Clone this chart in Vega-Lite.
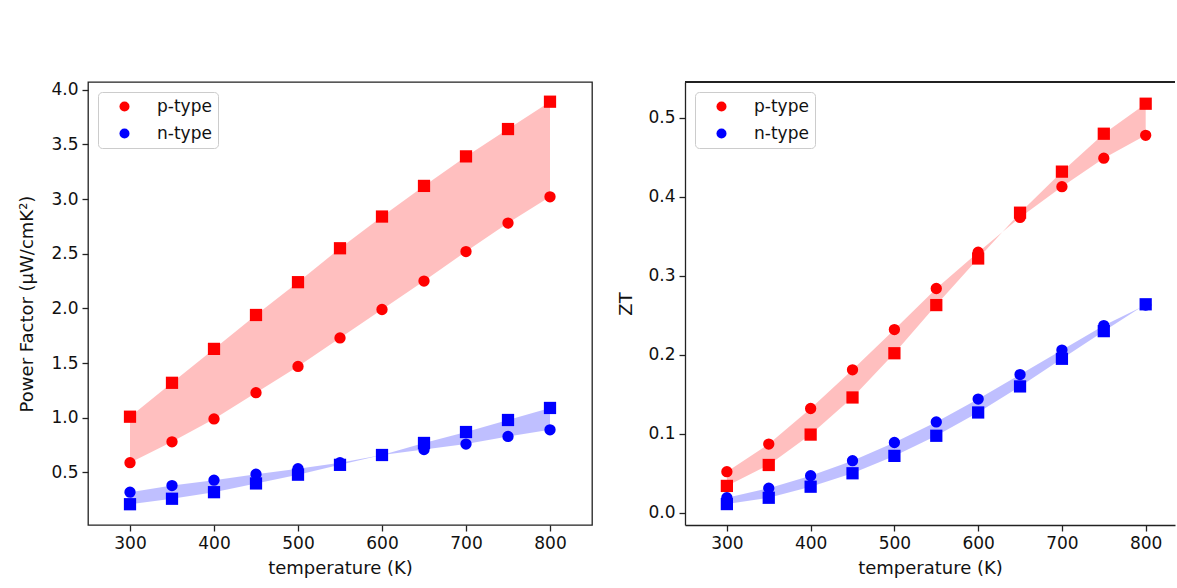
{
  "$schema": "https://vega.github.io/schema/vega-lite/v6.json",
  "padding": {"left": 18, "top": 80, "right": 0, "bottom": 0},
  "background": "white",
  "spacing": 24,
  "config": {
    "font": "DejaVu Sans",
    "view": {"stroke": "#222222", "strokeWidth": 1.3},
    "axis": {
      "labelFont": "DejaVu Sans", "labelFontSize": 17, "labelColor": "#111111",
      "titleFont": "DejaVu Sans", "titleFontSize": 18, "titleFontWeight": "normal", "titleColor": "#111111",
      "tickColor": "#222222", "tickSize": 6, "tickWidth": 1.3,
      "domain": false, "grid": false, "labelPadding": 4, "titlePadding": 8
    },
    "legend": {
      "orient": "top-left", "offset": 10, "padding": 6,
      "strokeColor": "#cccccc", "strokeWidth": 1, "cornerRadius": 4, "fillColor": "white",
      "labelFont": "DejaVu Sans", "labelFontSize": 17, "labelColor": "#111111",
      "symbolType": "circle", "symbolSize": 100, "symbolOpacity": 1, "symbolStrokeWidth": 0,
      "symbolOffset": 12, "labelOffset": 24, "rowPadding": 9
    }
  },
  "datasets": {
    "pf": [
      {"type": "p-type", "T": 300, "circle": 0.59, "square": 1.01},
      {"type": "p-type", "T": 350, "circle": 0.78, "square": 1.32},
      {"type": "p-type", "T": 400, "circle": 0.99, "square": 1.63},
      {"type": "p-type", "T": 450, "circle": 1.23, "square": 1.94},
      {"type": "p-type", "T": 500, "circle": 1.47, "square": 2.24},
      {"type": "p-type", "T": 550, "circle": 1.73, "square": 2.55},
      {"type": "p-type", "T": 600, "circle": 1.99, "square": 2.84},
      {"type": "p-type", "T": 650, "circle": 2.25, "square": 3.12},
      {"type": "p-type", "T": 700, "circle": 2.52, "square": 3.39},
      {"type": "p-type", "T": 750, "circle": 2.78, "square": 3.64},
      {"type": "p-type", "T": 800, "circle": 3.02, "square": 3.89},
      {"type": "n-type", "T": 300, "circle": 0.32, "square": 0.21},
      {"type": "n-type", "T": 350, "circle": 0.38, "square": 0.26},
      {"type": "n-type", "T": 400, "circle": 0.43, "square": 0.32},
      {"type": "n-type", "T": 450, "circle": 0.485, "square": 0.40},
      {"type": "n-type", "T": 500, "circle": 0.535, "square": 0.48},
      {"type": "n-type", "T": 550, "circle": 0.59, "square": 0.57},
      {"type": "n-type", "T": 600, "circle": 0.66, "square": 0.66},
      {"type": "n-type", "T": 650, "circle": 0.71, "square": 0.77},
      {"type": "n-type", "T": 700, "circle": 0.76, "square": 0.87},
      {"type": "n-type", "T": 750, "circle": 0.83, "square": 0.98},
      {"type": "n-type", "T": 800, "circle": 0.89, "square": 1.09}
    ],
    "zt": [
      {"type": "p-type", "T": 300, "circle": 0.052, "square": 0.034},
      {"type": "p-type", "T": 350, "circle": 0.087, "square": 0.0605},
      {"type": "p-type", "T": 400, "circle": 0.132, "square": 0.099},
      {"type": "p-type", "T": 450, "circle": 0.181, "square": 0.146},
      {"type": "p-type", "T": 500, "circle": 0.232, "square": 0.202},
      {"type": "p-type", "T": 550, "circle": 0.284, "square": 0.263},
      {"type": "p-type", "T": 600, "circle": 0.33, "square": 0.322},
      {"type": "p-type", "T": 650, "circle": 0.374, "square": 0.38},
      {"type": "p-type", "T": 700, "circle": 0.413, "square": 0.432},
      {"type": "p-type", "T": 750, "circle": 0.449, "square": 0.48},
      {"type": "p-type", "T": 800, "circle": 0.478, "square": 0.518},
      {"type": "n-type", "T": 300, "circle": 0.019, "square": 0.011},
      {"type": "n-type", "T": 350, "circle": 0.031, "square": 0.019},
      {"type": "n-type", "T": 400, "circle": 0.047, "square": 0.033},
      {"type": "n-type", "T": 450, "circle": 0.066, "square": 0.05},
      {"type": "n-type", "T": 500, "circle": 0.089, "square": 0.072},
      {"type": "n-type", "T": 550, "circle": 0.115, "square": 0.0975},
      {"type": "n-type", "T": 600, "circle": 0.144, "square": 0.127},
      {"type": "n-type", "T": 650, "circle": 0.175, "square": 0.16},
      {"type": "n-type", "T": 700, "circle": 0.206, "square": 0.195},
      {"type": "n-type", "T": 750, "circle": 0.237, "square": 0.23},
      {"type": "n-type", "T": 800, "circle": 0.263, "square": 0.264}
    ]
  },
  "resolve": {"scale": {"color": "independent"}, "legend": {"color": "independent"}},
  "hconcat": [
    {
      "width": 504,
      "height": 443,
      "data": {"name": "pf"},
      "layer": [
        {
          "mark": {"type": "area", "orient": "vertical", "opacity": 0.25},
          "encoding": {
            "x": {"field": "T", "type": "quantitative", "scale": {"domain": [250, 850], "nice": false, "zero": false}, "axis": {"values": [300, 400, 500, 600, 700, 800], "title": "temperature (K)"}},
            "y": {"field": "circle", "type": "quantitative", "scale": {"domain": [0.02, 4.07], "nice": false, "zero": false}, "axis": {"values": [0.5, 1.0, 1.5, 2.0, 2.5, 3.0, 3.5, 4.0], "format": ".1f", "title": "Power Factor (μW/cmK²)", "titlePadding": 14}},
            "y2": {"field": "square"},
            "color": {"field": "type", "type": "nominal", "scale": {"domain": ["p-type", "n-type"], "range": ["#ff0000", "#0000ff"]}}
          }
        },
        {
          "mark": {"type": "point", "shape": "square", "filled": true, "size": 150, "opacity": 1},
          "encoding": {
            "x": {"field": "T", "type": "quantitative"},
            "y": {"field": "square", "type": "quantitative"},
            "color": {"field": "type", "type": "nominal"}
          }
        },
        {
          "mark": {"type": "point", "shape": "circle", "filled": true, "size": 128, "opacity": 1},
          "encoding": {
            "x": {"field": "T", "type": "quantitative"},
            "y": {"field": "circle", "type": "quantitative"},
            "color": {"field": "type", "type": "nominal", "legend": {"title": null}}
          }
        }
      ]
    },
    {
      "width": 490,
      "height": 443,
      "view": {"stroke": null},
      "data": {"name": "zt"},
      "layer": [
        {
          "mark": {"type": "area", "orient": "vertical", "opacity": 0.25},
          "encoding": {
            "x": {"field": "T", "type": "quantitative", "scale": {"domain": [250, 835], "nice": false, "zero": false}, "axis": {"values": [300, 400, 500, 600, 700, 800], "title": "temperature (K)", "domain": true, "domainColor": "#222222", "domainWidth": 1.3}},
            "y": {"field": "circle", "type": "quantitative", "scale": {"domain": [-0.0155, 0.5455], "nice": false, "zero": false}, "axis": {"values": [0.0, 0.1, 0.2, 0.3, 0.4, 0.5], "format": ".1f", "title": "ZT", "titlePadding": 12, "domain": true, "domainColor": "#222222", "domainWidth": 1.3}},
            "y2": {"field": "square"},
            "color": {"field": "type", "type": "nominal", "scale": {"domain": ["p-type", "n-type"], "range": ["#ff0000", "#0000ff"]}}
          }
        },
        {
          "mark": {"type": "point", "shape": "square", "filled": true, "size": 150, "opacity": 1},
          "encoding": {
            "x": {"field": "T", "type": "quantitative"},
            "y": {"field": "square", "type": "quantitative"},
            "color": {"field": "type", "type": "nominal"}
          }
        },
        {
          "mark": {"type": "point", "shape": "circle", "filled": true, "size": 128, "opacity": 1},
          "encoding": {
            "x": {"field": "T", "type": "quantitative"},
            "y": {"field": "circle", "type": "quantitative"},
            "color": {"field": "type", "type": "nominal", "legend": {"title": null}}
          }
        },
        {
          "mark": {"type": "rule", "color": "#222222", "strokeWidth": 1.3},
          "encoding": {"y": {"datum": 0.5455}}
        }
      ]
    }
  ]
}
